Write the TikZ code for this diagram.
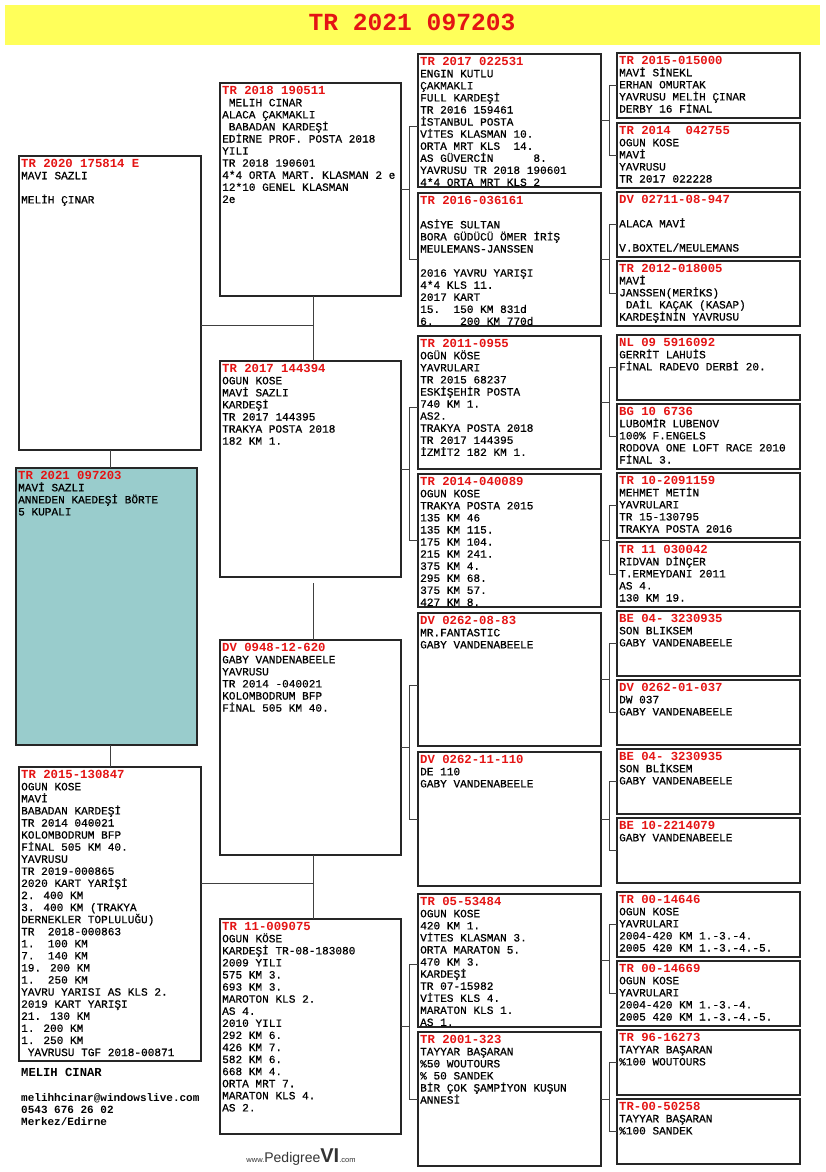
\documentclass[tikz,border=0pt]{standalone}
\usepackage{fontspec}
\newfontfamily\cour{Liberation Mono}
\newfontfamily\courbody[FakeBold=0.6]{Liberation Mono}
\newfontfamily\logofont{Liberation Sans}
\definecolor{tred}{RGB}{228,20,20}
\definecolor{tyel}{RGB}{255,255,90}
\definecolor{tealbox}{RGB}{153,204,204}
\tikzset{
  pbox/.style={draw=black!85, line width=1.1pt, anchor=north west, inner sep=0pt, outer sep=0pt},
  ptxt/.style={anchor=north west, inner sep=0pt, align=left, font=\courbody\fontsize{11.1}{12.08}\selectfont},
  conn/.style={draw=black!75, line width=1pt},
  foot/.style={anchor=west, inner sep=0pt, font=\cour\bfseries\fontsize{11}{12}\selectfont},
}
\newcommand\hdr[1]{\rule{0pt}{10pt}{\cour\color{tred}\bfseries\fontsize{12.3}{12.08}\selectfont #1}}
\newcommand\lsp{\phantom{X}}
\newcommand\pbx[7][white]{%
  \node[pbox, fill=#1, minimum width=#5pt, minimum height=#6pt] (#2) at (#3,#4) {};
  \node[ptxt] (#2t) at ([xshift=2pt,yshift=-1pt]#2.north west) {#7};
}
\newcommand\pconn[5]{% parent, child A, child B, gap, offset of A
  \draw[conn] (#1.east) -- ++(#4,0);
  \draw[conn] ([yshift=-#5pt]#2.west) -- ++(-#4,0) |- (#3.west);
}
\begin{document}
\begin{tikzpicture}[x=1pt,y=-1pt]
\fill[white] (0,0) rectangle (825,1172);
\useasboundingbox (0,0) rectangle (825,1172);
% title
\fill[tyel] (5,5) rectangle (820,45);
\node[font=\cour\bfseries\fontsize{24.6}{26}\selectfont, text=tred, inner sep=0pt] (title) at (412,22) {TR 2021 097203};

% column 1
\pbx{s}{19}{156}{182}{294}{\hdr{TR 2020 175814 E}\\MAVI SAZLI\\\mbox{}\\MELİH ÇINAR}
\pbx[tealbox]{subj}{16}{468}{181}{277}{\hdr{TR 2021 097203}\\MAVİ SAZLI\\ANNEDEN KAEDEŞİ BÖRTE\\5 KUPALI}
\pbx{d}{19}{767}{182}{294}{\hdr{TR 2015-130847}\\OGUN KOSE\\MAVİ\\BABADAN KARDEŞİ\\TR 2014 040021\\KOLOMBODRUM BFP\\FİNAL 505 KM 40.\\YAVRUSU\\TR 2019-000865\\2020 KART YARİŞİ\\2. 400 KM\\3. 400 KM (TRAKYA\\DERNEKLER TOPLULUĞU)\\TR~~2018-000863\\1.~~100 KM\\7.~~140 KM\\19. 200 KM\\1.~~250 KM\\YAVRU YARISI AS KLS 2.\\2019 KART YARIŞI\\21. 130 KM\\1. 200 KM\\1. 250 KM\\\lsp YAVRUSU TGF 2018-00871}

\node[foot, font=\cour\bfseries\fontsize{12.2}{13}\selectfont] (owner) at (21,1072) {MELIH CINAR};
\node[foot] (mail) at (21,1098) {melihhcinar@windowslive.com};
\node[foot] (phone) at (21,1110) {0543 676 26 02};
\node[foot] (city) at (21,1122) {Merkez/Edirne};

% column 2
\pbx{c2a}{220}{83}{181}{213}{\hdr{TR 2018 190511}\\\lsp MELIH CINAR\\ALACA ÇAKMAKLI\\\lsp BABADAN KARDEŞİ\\EDİRNE PROF. POSTA 2018\\YILI\\TR 2018 190601\\4*4 ORTA MART. KLASMAN 2 e\\12*10 GENEL KLASMAN\\2e}
\pbx{c2b}{220}{361}{181}{216}{\hdr{TR 2017 144394}\\OGUN KOSE\\MAVİ SAZLI\\KARDEŞİ\\TR 2017 144395\\TRAKYA POSTA 2018\\182 KM 1.}
\pbx{c2c}{220}{640}{181}{215}{\hdr{DV 0948-12-620}\\GABY VANDENABEELE\\YAVRUSU\\TR 2014 -040021\\KOLOMBODRUM BFP\\FİNAL 505 KM 40.}
\pbx{c2d}{220}{919}{181}{215}{\hdr{TR 11-009075}\\OGUN KÖSE\\KARDEŞİ TR-08-183080\\2009 YILI\\575 KM 3.\\693 KM 3.\\MAROTON KLS 2.\\AS 4.\\2010 YILI\\292 KM 6.\\426 KM 7.\\582 KM 6.\\668 KM 4.\\ORTA MRT 7.\\MARATON KLS 4.\\AS 2.}

% column 3
\pbx{c3a}{418}{54}{183}{133}{\hdr{TR 2017 022531}\\ENGIN KUTLU\\ÇAKMAKLI\\FULL KARDEŞİ\\TR 2016 159461\\İSTANBUL POSTA\\VİTES KLASMAN 10.\\ORTA MRT KLS~~14.\\AS GÜVERCİN~~~~~~8.\\YAVRUSU TR 2018 190601\\4*4 ORTA MRT KLS 2}
\pbx{c3b}{418}{193}{183}{133}{\hdr{TR 2016-036161}\\\mbox{}\\ASİYE SULTAN\\BORA GÜDÜCÜ ÖMER İRİŞ\\MEULEMANS-JANSSEN\\\mbox{}\\2016 YAVRU YARIŞI\\4*4 KLS 11.\\2017 KART\\15.~~150 KM 831d\\6.~~~~200 KM 770d}
\pbx{c3c}{418}{336}{183}{133}{\hdr{TR 2011-0955}\\OGÜN KÖSE\\YAVRULARI\\TR 2015 68237\\ESKİŞEHİR POSTA\\740 KM 1.\\AS2.\\TRAKYA POSTA 2018\\TR 2017 144395\\İZMİT2 182 KM 1.}
\pbx{c3d}{418}{474}{183}{133}{\hdr{TR 2014-040089}\\OGUN KOSE\\TRAKYA POSTA 2015\\135 KM 46\\135 KM 115.\\175 KM 104.\\215 KM 241.\\375 KM 4.\\295 KM 68.\\375 KM 57.\\427 KM 8.}
\pbx{c3e}{418}{613}{183}{133}{\hdr{DV 0262-08-83}\\MR.FANTASTIC\\GABY VANDENABEELE}
\pbx{c3f}{418}{752}{183}{134}{\hdr{DV 0262-11-110}\\DE 110\\GABY VANDENABEELE}
\pbx{c3g}{418}{894}{183}{133}{\hdr{TR 05-53484}\\OGUN KOSE\\420 KM 1.\\VİTES KLASMAN 3.\\ORTA MARATON 5.\\470 KM 3.\\KARDEŞİ\\TR 07-15982\\VİTES KLS 4.\\MARATON KLS 1.\\AS 1.}
\pbx{c3h}{418}{1032}{183}{134}{\hdr{TR 2001-323}\\TAYYAR BAŞARAN\\\%50 WOUTOURS\\\% 50 SANDEK\\BİR ÇOK ŞAMPİYON KUŞUN\\ANNESİ}

% column 4
\pbx{c4a}{617}{53}{183}{65}{\hdr{TR 2015-015000}\\MAVİ SİNEKL\\ERHAN OMURTAK\\YAVRUSU MELİH ÇINAR\\DERBY 16 FİNAL}
\pbx{c4b}{617}{123}{183}{65}{\hdr{TR 2014~~042755}\\OGUN KOSE\\MAVİ\\YAVRUSU\\TR 2017 022228}
\pbx{c4c}{617}{192}{183}{65}{\hdr{DV 02711-08-947}\\\mbox{}\\ALACA MAVİ\\\mbox{}\\V.BOXTEL/MEULEMANS}
\pbx{c4d}{617}{261}{183}{65}{\hdr{TR 2012-018005}\\MAVİ\\JANSSEN(MERİKS)\\\lsp DAİL KAÇAK (KASAP)\\KARDEŞİNİN YAVRUSU}
\pbx{c4e}{617}{335}{183}{65}{\hdr{NL 09 5916092}\\GERRİT LAHUİS\\FİNAL RADEVO DERBİ 20.}
\pbx{c4f}{617}{404}{183}{65}{\hdr{BG 10 6736}\\LUBOMİR LUBENOV\\100\% F.ENGELS\\RODOVA ONE LOFT RACE 2010\\FİNAL 3.}
\pbx{c4g}{617}{473}{183}{65}{\hdr{TR 10-2091159}\\MEHMET METİN\\YAVRULARI\\TR 15-130795\\TRAKYA POSTA 2016}
\pbx{c4h}{617}{542}{183}{65}{\hdr{TR 11 030042}\\RIDVAN DİNÇER\\T.ERMEYDANI 2011\\AS 4.\\130 KM 19.}
\pbx{c4i}{617}{611}{183}{65}{\hdr{BE 04- 3230935}\\SON BLIKSEM\\GABY VANDENABEELE}
\pbx{c4j}{617}{680}{183}{65}{\hdr{DV 0262-01-037}\\DW 037\\GABY VANDENABEELE}
\pbx{c4k}{617}{749}{183}{65}{\hdr{BE 04- 3230935}\\SON BLİKSEM\\GABY VANDENABEELE}
\pbx{c4l}{617}{818}{183}{65}{\hdr{BE 10-2214079}\\GABY VANDENABEELE}
\pbx{c4m}{617}{892}{183}{65}{\hdr{TR 00-14646}\\OGUN KOSE\\YAVRULARI\\2004-420 KM 1.-3.-4.\\2005 420 KM 1.-3.-4.-5.}
\pbx{c4n}{617}{961}{183}{65}{\hdr{TR 00-14669}\\OGUN KOSE\\YAVRULARI\\2004-420 KM 1.-3.-4.\\2005 420 KM 1.-3.-4.-5.}
\pbx{c4o}{617}{1030}{183}{65}{\hdr{TR 96-16273}\\TAYYAR BAŞARAN\\\%100 WOUTOURS}
\pbx{c4p}{617}{1099}{183}{65}{\hdr{TR-00-50258}\\TAYYAR BAŞARAN\\\%100 SANDEK}

% connectors column 1
\draw[conn] (s.south) -- (s.south |- subj.north);
\draw[conn] (d.north |- subj.south) -- (d.north);
\coordinate (j1) at (313,325);
\coordinate (j2) at (313,883);
\draw[conn] (s.east |- j1) -- (j1);
\draw[conn] (c2a.south -| j1) -- (c2b.north -| j1);
\draw[conn] ([yshift=-6pt]c2b.south -| j1) -- (c2c.north -| j1);
\draw[conn] (d.east |- j2) -- (j2);
\draw[conn] (c2c.south -| j2) -- (c2d.north -| j2);
% column 2 to 3
\pconn{c2a}{c3a}{c3b}{8.5}{6}
\pconn{c2b}{c3c}{c3d}{8.5}{5}
\pconn{c2c}{c3e}{c3f}{8.5}{6}
\pconn{c2d}{c3g}{c3h}{8.5}{4}
% column 3 to 4
\pconn{c3a}{c4a}{c4b}{8}{0}
\pconn{c3b}{c4c}{c4d}{8}{0}
\pconn{c3c}{c4e}{c4f}{8}{0}
\pconn{c3d}{c4g}{c4h}{8}{0}
\pconn{c3e}{c4i}{c4j}{8}{0}
\pconn{c3f}{c4k}{c4l}{8}{0}
\pconn{c3g}{c4m}{c4n}{8}{0}
\pconn{c3h}{c4o}{c4p}{8}{0}

% logo
\node[inner sep=0pt, anchor=base, text=black!80] (logo) at (301,1162) {\logofont{\fontsize{7.5}{8}\selectfont www.}{\fontsize{14}{14}\selectfont Pedigree}{\fontsize{20}{20}\selectfont\bfseries VI}{\fontsize{7.5}{8}\selectfont .com}};
\end{tikzpicture}
\end{document}
